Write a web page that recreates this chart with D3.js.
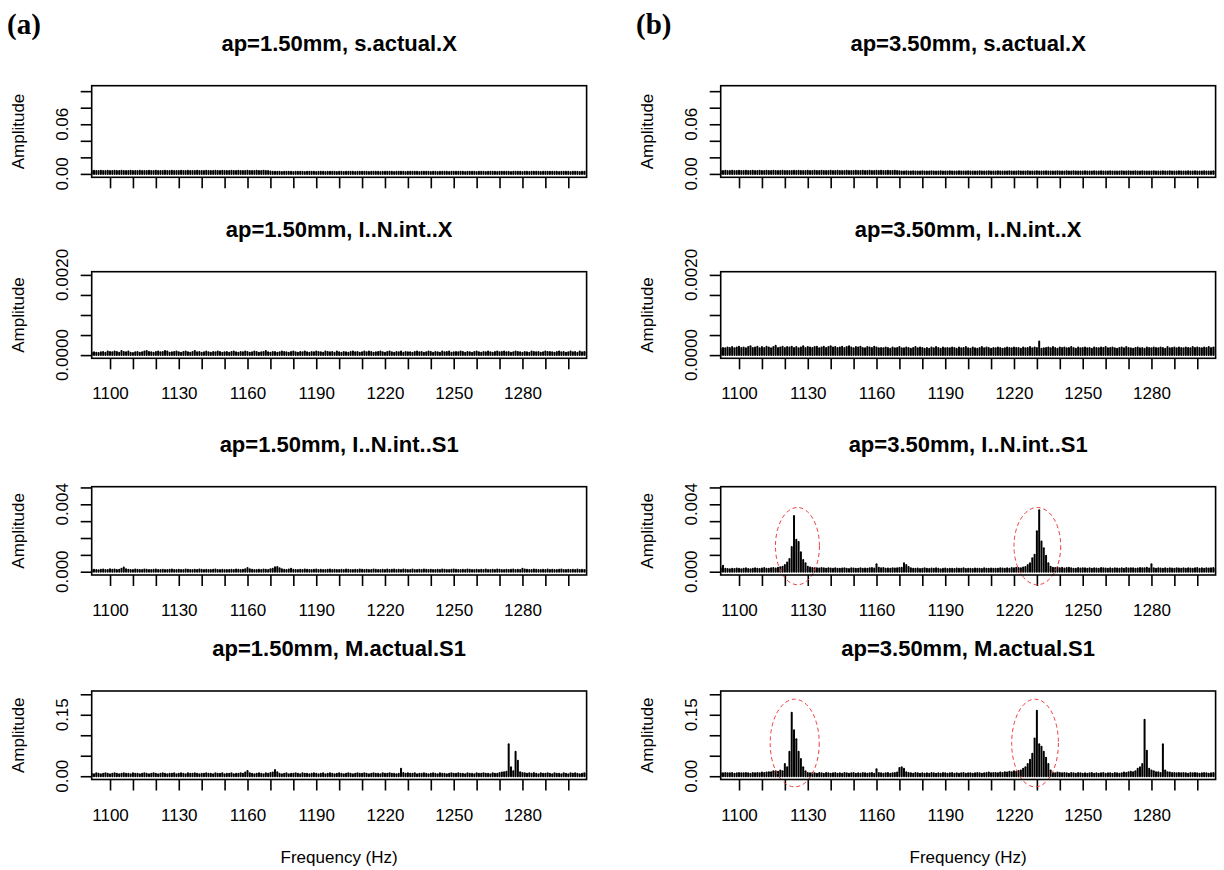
<!DOCTYPE html>
<html>
<head>
<meta charset="utf-8">
<script src="https://cdn.jsdelivr.net/npm/d3@7"></script>
<style>
  body { margin: 0; background: #fff; }
  svg text { font-family: "Liberation Sans", Arial, sans-serif; fill: #000; }
</style>
</head>
<body>
<svg id="chart" width="1224" height="870"></svg>
<script>
// frequency bins, 1 Hz apart (Hz)
var freqs = d3.range(1092, 1309);

// amplitudes, one value per bin starting at 1092 Hz
// s.actual.X, x 1e-4
var sActualX150 = [
  36,37,36,35,37,36,36,37,35,36, 37,36,36,37,36,35,36,37,36,36,
  36,37,36,36,35,37,36,36,37,36, 35,36,37,36,36,37,36,35,36,37,
  36,36,37,36,35,36,37,36,36,35, 37,36,36,35,37,36,36,37,36,36,
  36,37,36,36,37,35,36,36,37,36, 36,35,37,36,36,37,36,36,30,26,
  25,26,25,24,26,25,25,26,24,25, 26,25,25,24,26,25,26,25,24,25,
  25,26,24,25,25,26,25,24,26,25, 24,25,26,25,25,24,26,25,25,26,
  25,24,25,26,25,25,24,26,25,25, 26,25,24,25,26,25,25,24,25,26,
  25,25,26,24,25,26,25,25,24,25, 26,24,25,25,26,25,24,25,26,25,
  25,26,25,24,25,25,26,25,24,26, 25,25,24,26,25,26,25,24,25,25,
  26,25,25,24,26,25,25,26,24,25, 25,24,26,25,25,26,24,25,25,26,
  25,26,25,25,24,25,26,25,25,24, 26,25,25,24,26,25,25];
var sActualX350 = [
  37,36,37,36,36,37,35,36,37,36, 36,37,36,35,37,36,36,37,36,35,
  37,36,36,37,36,36,35,37,36,36, 36,35,37,36,37,36,36,35,37,36,
  35,37,36,36,37,36,35,36,37,36, 36,37,35,36,36,37,36,36,35,37,
  36,36,37,35,36,37,36,36,37,36, 37,36,36,37,35,36,37,36,32,30,
  30,31,29,30,31,30,29,30,31,30, 29,30,31,30,30,29,31,30,30,29,
  31,30,29,30,31,30,30,29,31,30, 30,29,30,31,30,30,29,31,30,30,
  29,31,30,30,29,30,31,30,29,30, 31,30,30,29,31,30,29,30,31,30,
  30,29,31,30,30,29,30,31,30,29, 30,31,29,30,31,30,30,29,30,31,
  29,30,30,31,29,30,31,30,30,29, 31,30,29,30,30,31,29,30,31,30,
  30,31,29,30,31,30,30,29,30,31, 30,29,30,31,30,29,31,30,30,29,
  31,30,30,29,31,30,30,31,29,30, 30,31,30,29,30,31,30];
// I..N.int..X, x 1e-5
var intX150 = [
  6,7,6,5,7,8,6,9,8,7, 9,8,6,10,8,7,9,6,5,7, 8,6,7,9,10,8,7,6,8,9,
  7,8,10,9,6,7,8,9,7,6, 8,9,7,6,8,10,7,8,6,7, 9,7,6,8,7,9,8,6,7,8,
  6,8,9,7,6,8,7,9,8,6, 7,9,8,6,7,8,10,7,6,8, 8,6,7,9,8,7,6,8,9,7,
  6,8,7,9,7,6,8,7,9,8, 7,6,9,8,7,8,6,9,7,6, 8,7,6,8,9,7,8,6,7,9,
  7,9,8,6,7,8,9,7,6,8, 9,7,6,8,7,9,6,8,7,7, 6,8,9,7,8,6,7,9,8,6,
  8,7,6,9,7,8,9,6,7,8, 7,9,8,6,8,7,6,8,9,7, 6,8,7,9,7,6,8,9,7,8,
  9,7,8,6,7,9,8,7,6,8, 7,6,9,8,7,8,6,7,9,8, 8,7,6,8,9,7,8,6,7,9,
  7,8,6,9,7,8,7];
var intX350 = [
  16,18,17,19,18,20,17,19,21,18, 19,17,20,22,18,19,21,17,20,18,
  21,19,17,20,23,18,19,21,18,20, 19,21,18,20,17,19,22,18,20,19,
  18,20,21,17,19,21,18,20,22,19, 20,18,19,21,18,20,22,19,17,20,
  19,21,18,17,20,19,18,21,19,17, 18,17,19,18,16,19,17,18,20,17,
  17,19,18,16,18,20,17,19,18,16, 18,16,19,17,20,18,16,19,17,18,
  17,19,18,16,19,17,18,20,17,16, 19,17,16,18,20,17,19,18,16,18,
  17,19,18,16,17,19,18,17,19,18, 18,16,19,17,18,20,17,19,18,34,
  16,17,18,19,17,20,18,16,19,18, 19,17,18,20,18,16,19,17,18,19,
  17,18,16,19,18,17,19,18,20,17, 18,19,17,16,18,19,17,20,18,17,
  16,18,19,17,18,16,19,18,17,19, 18,17,19,18,16,20,17,18,19,17,
  19,18,17,19,18,17,20,18,19,18, 17,19,18,20,18,19,19];
// I..N.int..S1, x 1e-5
var intS1150 = [
  10,12,11,9,12,13,10,11,14,12, 13,11,12,18,25,14,12,10,11,13,
  12,10,11,13,12,11,10,12,13,11, 10,12,11,10,12,13,11,10,12,11,
  11,13,12,10,11,12,10,13,12,11, 12,10,11,12,13,11,10,12,11,10,
  11,12,10,13,12,11,12,15,22,14, 12,11,10,12,11,13,12,11,14,18,
  26,28,20,14,12,11,13,18,12,11, 10,12,11,13,12,10,11,12,13,11,
  12,11,10,12,13,11,12,10,11,12, 11,13,12,10,11,12,11,13,12,10,
  12,10,11,13,12,11,10,12,11,13, 11,12,13,10,12,11,13,12,10,11,
  13,11,10,12,11,13,12,10,12,11, 10,12,11,13,12,10,11,12,13,12,
  11,10,12,11,13,12,10,11,12,10, 12,11,13,10,11,12,11,13,12,11,
  10,12,11,12,13,11,12,10,18,13, 12,10,11,13,12,11,10,12,11,13,
  11,12,10,11,12,13,11,10,12,11, 12,11,13,10,12,11,12];
var intS1350 = [
  20,35,18,16,15,18,16,19,17,15, 17,20,16,15,18,21,17,16,19,22,
  18,17,20,22,19,24,26,30,40,55, 75,146,330,190,176,115,70,50,30,25,
  22,20,21,19,22,20,18,21,19,17, 20,18,17,19,21,18,16,20,19,17,
  18,20,17,19,18,21,22,19,45,24, 20,22,18,19,17,21,19,20,22,24,
  50,40,28,20,18,17,19,16,18,20, 17,16,19,18,20,17,15,18,19,16,
  18,17,16,19,18,17,20,16,18,17, 16,19,17,18,16,20,18,17,19,18,
  18,17,20,19,18,21,17,22,20,24, 22,20,25,28,40,50,80,100,240,365,
  180,140,95,50,30,24,22,25,20,23, 19,22,24,20,17,18,22,19,21,20,
  18,20,17,21,19,18,22,20,19,17, 20,18,21,19,17,20,18,22,19,21,
  20,18,19,22,20,21,24,19,45,20, 18,21,19,17,20,18,21,19,17,20,
  19,17,20,18,21,19,17,20,22,18, 20,18,21,19,20,22,19];
// M.actual.S1, x 1e-3
var mS1150 = [
  6,5,7,6,5,6,7,6,5,6, 7,6,5,6,7,6,6,5,7,6, 6,5,6,7,6,5,6,7,6,5,
  6,7,6,5,6,6,7,5,6,7, 6,5,7,6,6,7,6,5,6,6, 7,6,6,5,7,6,6,7,5,6,
  6,7,5,6,6,7,6,9,13,7, 6,5,6,7,6,5,7,6,8,9, 15,10,6,5,6,7,5,6,6,7,
  6,5,7,6,6,5,6,7,6,5, 6,7,5,6,7,6,5,6,7,6, 5,6,7,6,5,6,7,6,6,7,
  6,5,6,7,6,6,5,7,6,6, 7,6,6,5,6,18,8,6,7,6, 6,7,5,6,6,7,6,5,6,7,
  6,5,7,6,6,5,6,7,6,6, 7,6,6,5,7,6,6,5,7,6, 6,7,6,6,5,7,6,6,8,9,
  10,11,78,22,12,60,38,10,8,7, 6,7,6,8,6,5,7,6,6,7, 6,5,7,6,6,5,7,6,5,7,
  6,7,6,5,6,7,6];
var mS1350 = [
  8,7,8,7,7,8,6,7,8,7, 7,8,7,6,8,7,8,7,9,8, 9,10,10,12,12,11,14,12,30,22,
  60,155,112,90,60,42,22,12,8,7, 8,7,6,8,7,6,8,7,6,7, 8,6,7,6,8,7,6,7,8,6,
  7,6,8,7,6,7,8,6,17,8, 7,6,7,8,6,7,8,9,20,22, 18,10,8,7,6,8,7,6,7,6,
  7,6,8,7,6,7,6,8,7,6, 7,8,6,7,6,7,8,6,7,7, 6,7,8,7,6,7,8,9,7,8,
  8,7,9,8,10,9,11,10,12,11, 13,14,18,22,30,40,55,92,160,78, 72,60,45,30,14,8,7,9,8,7,
  8,7,6,8,7,6,8,7,6,7, 6,7,8,6,7,6,7,8,6,7, 7,6,8,7,6,7,9,8,10,11,
  10,12,18,22,30,138,62,18,14,12, 10,10,8,78,14,10,9,8,8,7, 8,7,8,7,6,8,7,8,7,6,
  7,8,7,6,7,8,7];

var panelLabels = ["(a)", "(b)"];
var ampTitles = ["s.actual.X", "I..N.int..X", "I..N.int..S1", "M.actual.S1"];
var depths = ["1.50", "3.50"];
var series = [
  [sActualX150, intX150, intS1150, mS1150],
  [sActualX350, intX350, intS1350, mS1350]
];
var units = [1e-4, 1e-5, 1e-5, 1e-3];

// y axis per row
var yTops = [0.1025, 0.002, 0.00485, 0.2];
var yTicks = [
  [0, 0.02, 0.04, 0.06, 0.08, 0.1],
  [0, 0.0005, 0.001, 0.0015, 0.002],
  [0, 0.001, 0.002, 0.003, 0.004, 0.005],
  [0, 0.05, 0.1, 0.15, 0.2]
];
var yLabels = [[0, 0.06], [0, 0.002], [0, 0.004], [0, 0.15]];
var yFormats = [".2f", ".4f", ".3f", ".2f"];

// x axis
var xTicks = d3.range(1100, 1301, 10);
var xLabels = [1100, 1130, 1160, 1190, 1220, 1250, 1280];
var xLimits = [1100, 1300];

// red dashed rings around the peaks (col 1): centre Hz, centre amp, half widths
var rings = [
  {row: 2, f: 1125.5, a: 0.00152, rf: 9.6, ra: 0.00229},
  {row: 2, f: 1230.2, a: 0.00152, rf: 10.2, ra: 0.00229},
  {row: 3, f: 1124.3, a: 0.081, rf: 10.7, ra: 0.107},
  {row: 3, f: 1229.2, a: 0.081, rf: 10.2, ra: 0.107}
];

var svg = d3.select("#chart");
var colX = [0, 629],
    box = {left: 91.7, right: 586.6},
    rowBox = [[85.7, 177.3], [271.7, 358.3], [486.7, 575], [691, 779.5]];

var xPad = 0.04 * (xLimits[1] - xLimits[0]);

for (var c = 0; c < 2; c++) {
  var ox = colX[c];

  svg.append("text")
    .attr("x", ox + 7)
    .attr("y", 34)
    .style("font-family", "'Liberation Serif', 'Times New Roman', serif")
    .style("font-weight", "bold")
    .style("font-size", "29px")
    .text(panelLabels[c]);

  for (var r = 0; r < 4; r++) {
    drawPanel(c, r, ox);
  }

  svg.append("text")
    .attr("x", ox + (box.left + box.right) / 2)
    .attr("y", 857)
    .attr("dy", "0.35em")
    .attr("text-anchor", "middle")
    .style("font-size", "17px")
    .text("Frequency (Hz)");
}

function drawPanel(c, r, ox) {
  var top = rowBox[r][0], bottom = rowBox[r][1];
  var vals = series[c][r], unit = units[r];

  var x = d3.scaleLinear()
      .domain([xLimits[0] - xPad, xLimits[1] + xPad])
      .range([ox + box.left, ox + box.right]);

  var y = d3.scaleLinear()
      .domain([-0.04 * yTops[r], 1.04 * yTops[r]])
      .range([bottom, top]);

  // title
  svg.append("text")
    .attr("x", ox + (box.left + box.right) / 2)
    .attr("y", top - 35)
    .attr("text-anchor", "middle")
    .style("font-weight", "bold")
    .style("font-size", "22px")
    .text("ap=" + depths[c] + "mm, " + ampTitles[r]);

  var clipId = "clip" + c + r;
  svg.append("clipPath").attr("id", clipId)
    .append("rect")
    .attr("x", ox + box.left).attr("y", top)
    .attr("width", box.right - box.left).attr("height", bottom - top);

  // spectrum lines (type = "h")
  svg.append("g")
    .attr("clip-path", "url(#" + clipId + ")")
    .selectAll("line")
    .data(vals)
    .enter()
    .append("line")
    .attr("x1", (d, i) => x(freqs[i]))
    .attr("x2", (d, i) => x(freqs[i]))
    .attr("y1", y(0))
    .attr("y2", d => y(d * unit))
    .style("stroke", "#000")
    .style("stroke-width", 2)
    .style("stroke-linecap", "round");

  // x ticks
  var xAxis = svg.append("g")
    .attr("transform", "translate(0," + bottom + ")")
    .call(d3.axisBottom(x)
      .tickValues(xTicks)
      .tickSize(11)
      .tickPadding(18)
      .tickFormat(d => (r > 0 && xLabels.indexOf(d) >= 0) ? d : ""));
  xAxis.select(".domain").remove();
  xAxis.selectAll("line").style("stroke", "#000").style("stroke-width", 1.6);
  xAxis.selectAll("text")
    .style("font-family", "'Liberation Sans', Arial, sans-serif")
    .style("font-size", "17px")
    .style("fill", "#000");

  // y ticks
  var yAxis = svg.append("g")
    .attr("transform", "translate(" + (ox + box.left) + ",0)")
    .call(d3.axisLeft(y)
      .tickValues(yTicks[r])
      .tickSize(11)
      .tickFormat(""));
  yAxis.select(".domain").remove();
  yAxis.selectAll("line").style("stroke", "#000").style("stroke-width", 1.6);

  var fmt = d3.format(yFormats[r]);
  svg.selectAll(null)
    .data(yLabels[r])
    .enter()
    .append("text")
    .attr("transform", d => "translate(" + (ox + box.left - 30) + "," + y(d) + ") rotate(-90)")
    .attr("dy", "0.35em")
    .attr("text-anchor", "middle")
    .style("font-size", "17px")
    .text(d => fmt(d));

  svg.append("text")
    .attr("transform", "translate(" + (ox + 18.3) + "," + ((top + bottom) / 2) + ") rotate(-90)")
    .attr("dy", "0.35em")
    .attr("text-anchor", "middle")
    .style("font-size", "17px")
    .text("Amplitude");

  // red rings
  if (c == 1) {
    svg.selectAll(null)
      .data(rings.filter(d => d.row == r))
      .enter()
      .append("ellipse")
      .attr("cx", d => x(d.f))
      .attr("cy", d => y(d.a))
      .attr("rx", d => x(d.f + d.rf) - x(d.f))
      .attr("ry", d => y(d.a - d.ra) - y(d.a))
      .style("fill", "none")
      .style("stroke", "#f03c3c")
      .style("stroke-width", 1)
      .style("stroke-dasharray", "4,3");
  }

  // box
  svg.append("rect")
    .attr("x", ox + box.left)
    .attr("y", top)
    .attr("width", box.right - box.left)
    .attr("height", bottom - top)
    .style("fill", "none")
    .style("stroke", "#000")
    .style("stroke-width", 1.6);
}
</script>
</body>
</html>
